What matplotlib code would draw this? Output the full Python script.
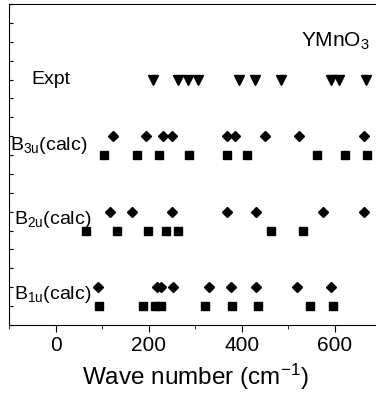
import matplotlib
matplotlib.use("Agg")
import matplotlib.pyplot as plt
from matplotlib.ticker import MultipleLocator

plt.rcParams['font.family'] = ['Liberation Sans', 'DejaVu Sans']
plt.rcParams['mathtext.default'] = 'regular'

# wave numbers (cm^-1)
expt = [210, 264, 284, 306, 395, 429, 484, 591, 609, 668]
b3u_diamond = [123, 194, 230, 250, 369, 386, 451, 523, 662]
b3u_square = [104, 176, 222, 286, 369, 412, 561, 621, 669]
b2u_diamond = [116, 164, 251, 369, 430, 575, 662]
b2u_square = [66, 133, 198, 237, 263, 462, 531]
b1u_diamond = [91, 218, 226, 252, 330, 376, 430, 519, 593]
b1u_square = [94, 189, 214, 226, 321, 380, 436, 546, 596]

row_labels = ['Expt', r'B$_{3u}$(calc)', r'B$_{2u}$(calc)', r'B$_{1u}$(calc)']

fig = plt.figure(figsize=(3.76, 4.03), dpi=100)
ax = fig.add_axes([0.024, 0.1935, 0.99, 0.7965])

def row(ax, xs, y, marker, size):
    ax.plot(xs, [y] * len(xs), linestyle='none', marker=marker,
            color='black', markersize=size, clip_on=False)

row(ax, expt, 13, 'v', 6.5)
row(ax, b3u_diamond, 10, 'D', 5.5)
row(ax, b3u_square, 9, 's', 5.8)
row(ax, b2u_diamond, 6, 'D', 5.5)
row(ax, b2u_square, 5, 's', 5.8)
row(ax, b1u_diamond, 2, 'D', 5.5)
row(ax, b1u_square, 1, 's', 5.8)

ax.text(-52, 13, row_labels[0], fontsize=14, va='center', ha='left')
ax.text(-97, 9.5, row_labels[1], fontsize=14, va='center', ha='left')
ax.text(-90, 5.6, row_labels[2], fontsize=14, va='center', ha='left')
ax.text(-90, 1.6, row_labels[3], fontsize=14, va='center', ha='left')
ax.text(527, 15, r'YMnO$_3$', fontsize=15, va='center', ha='left')

ax.set_xlim(-100, 700)
ax.set_ylim(0, 17)
ax.xaxis.set_major_locator(MultipleLocator(200))
ax.xaxis.set_minor_locator(MultipleLocator(100))
ax.yaxis.set_major_locator(MultipleLocator(1))
ax.tick_params(axis='x', which='major', direction='out', length=5, labelsize=15, pad=3)
ax.tick_params(axis='x', which='minor', direction='out', length=3)
ax.tick_params(axis='y', direction='in', length=3, labelleft=False)
ax.spines['right'].set_visible(False)
ax.set_xlabel('Wave number (cm$^{-1}$)', fontsize=17.5, labelpad=5)

fig.savefig('out.png', dpi=100)
